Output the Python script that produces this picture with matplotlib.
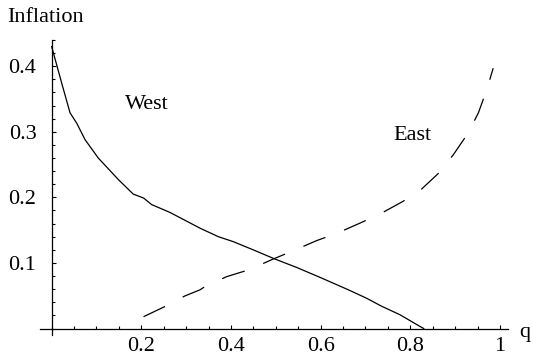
import numpy as np
import matplotlib
matplotlib.use("Agg")
import matplotlib.pyplot as plt
from matplotlib.ticker import MultipleLocator, FixedLocator

plt.rcParams['font.family'] = ['Liberation Serif', 'DejaVu Serif']

# West (solid) curve
west_q = [0.0, 0.0225, 0.041, 0.056, 0.0745, 0.104, 0.149, 0.182, 0.205, 0.223,
          0.264, 0.331, 0.372, 0.405, 0.446, 0.498, 0.547, 0.602, 0.662, 0.703,
          0.736, 0.777, 0.822, 0.83]
west_inf = [0.43, 0.374, 0.329, 0.313, 0.288, 0.260, 0.227, 0.205, 0.199, 0.189,
            0.177, 0.153, 0.140, 0.1325, 0.121, 0.106, 0.093, 0.077, 0.059, 0.046,
            0.034, 0.021, 0.003, 0.0]

# East (dashed) curve
east_q = [0.205, 0.251, 0.297, 0.331, 0.342, 0.39, 0.442, 0.491, 0.547, 0.591,
          0.639, 0.692, 0.736, 0.784, 0.825, 0.865, 0.896, 0.929, 0.952, 0.970, 0.985]
east_inf = [0.018, 0.033, 0.0496, 0.059, 0.064, 0.079, 0.090, 0.105, 0.121, 0.134,
            0.146, 0.162, 0.176, 0.194, 0.2125, 0.238, 0.265, 0.298, 0.329, 0.363, 0.397]

x_major = [0.2, 0.4, 0.6, 0.8, 1.0]
x_labels = ['0.2', '0.4', '0.6', '0.8', '1']
y_major = [0.1, 0.2, 0.3, 0.4]
y_labels = ['0.1', '0.2', '0.3', '0.4']

fig = plt.figure(figsize=(5.33, 3.59), dpi=100)
ax = fig.add_axes([40 / 533, 24 / 359, 468 / 533, 295 / 359])

ax.plot(west_q, west_inf, color='black', lw=0.9)
ax.plot(east_q, east_inf, color='black', lw=0.9, dashes=(19, 16))

ax.set_xlim(-0.026, 1.018)
ax.set_ylim(-0.0099, 0.44)

for s in ['top', 'right']:
    ax.spines[s].set_visible(False)
ax.spines['left'].set_position(('data', 0))
ax.spines['bottom'].set_position(('data', 0))
for s in ['left', 'bottom']:
    ax.spines[s].set_linewidth(0.9)

ax.xaxis.set_major_locator(FixedLocator(x_major))
ax.set_xticklabels(x_labels)
ax.xaxis.set_minor_locator(MultipleLocator(0.05))
ax.yaxis.set_major_locator(FixedLocator(y_major))
ax.set_yticklabels(y_labels)
ax.yaxis.set_minor_locator(MultipleLocator(0.02))

fs = 16
ax.tick_params(which='both', direction='in', width=0.8, labelsize=fs)
ax.tick_params(which='major', length=3.2)
ax.tick_params(which='minor', length=2.2)
ax.tick_params(axis='x', pad=6)
ax.tick_params(axis='y', pad=11)

ax.text(0.213, 0.341, 'West', fontsize=fs, ha='center', va='center')
ax.text(0.804, 0.294, 'East', fontsize=fs, ha='center', va='center')

fig.text(7 / 533, 1 - 18 / 359, 'Inflation', fontsize=fs, ha='left', va='center')
fig.text(519 / 533, 1 - 333 / 359, 'q', fontsize=fs, ha='left', va='center')

fig.savefig('out.png', dpi=100)
